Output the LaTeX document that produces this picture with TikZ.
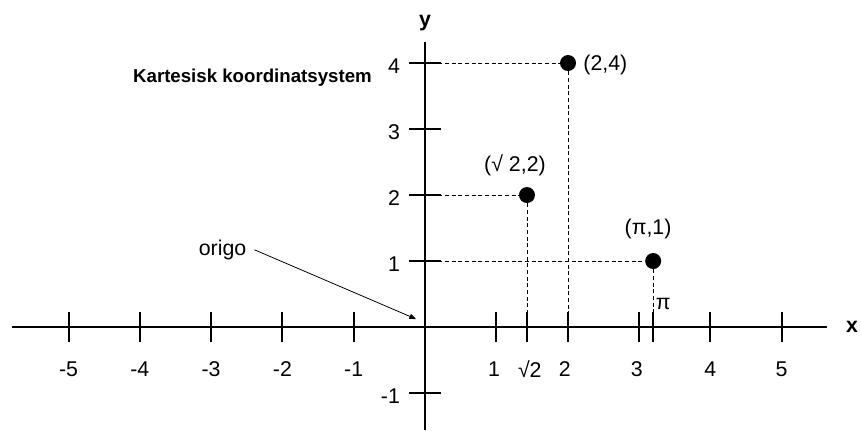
\documentclass[tikz,border=0pt]{standalone}
\usepackage{fontspec}
\setmainfont{Liberation Sans}
\usetikzlibrary{arrows.meta,positioning}

\begin{document}
\begin{tikzpicture}[
  x=53.475pt, y=49.5pt,
  akse/.style={line width=1.5pt},
  hjelp/.style={dash pattern=on 3pt off 2pt, line width=0.6pt},
  punkt/.style={circle, fill, inner sep=0pt, minimum size=12pt},
  tall/.style={font=\fontsize{16}{16}\selectfont, inner sep=1pt},
  pil/.style={-{Triangle[length=5pt,width=4pt]}, line width=0.6pt}]
  \useasboundingbox (-5.961,-1.561) rectangle (6.115,4.955);
  % akser
  \draw[akse] (-5.79,0) -- (5.64,0);
  \draw[akse] (0,-1.56) -- (0,4.32);
  \node[tall, font=\bfseries\fontsize{16}{16}\selectfont] (xnavn) at (5.99,0) {x};
  \node[tall, font=\bfseries\fontsize{16}{16}\selectfont] (ynavn) at (0,4.6) {y};
  \foreach \t in {-5,-4,-3,-2,-1,1,1.43,2,3,3.2,4,5}
    \draw[akse] (\t,-0.227) -- (\t,0.227);
  \foreach \t in {-1,1,2,3,4}
    \draw[akse] (-0.224,\t) -- (0.224,\t);
  % tall langs x
  \foreach \t in {-5,-4,-3,-2,-1,4,5}
    \node[tall] (x\t) at (\t,-0.64) {\t};
  \node[tall] (x1) at (0.97,-0.64) {1};
  \node[tall] (xrot) at (1.47,-0.64) {√2};
  \node[tall] (x2) at (1.96,-0.64) {2};
  \node[tall] (x3) at (2.97,-0.64) {3};
  \node[tall] (xpi) at (3.34,0.35) {π};
  % tall langs y
  \foreach \t in {-1,1,2,3,4}
    \node[tall, anchor=east] (y\t) at (-0.33,\t-0.05) {\t};
  \node[font=\bfseries\fontsize{14}{14}\selectfont] (tittel) at (-2.42,3.78) {Kartesisk koordinatsystem};
  % punkter
  \coordinate (O) at (-0.126,0.121);
  \node[punkt] (p24) at (2.006,4) {};
  \node[punkt] (prot) at (1.43,2) {};
  \node[punkt] (ppi) at (3.2,1) {};
  \node[tall, anchor=west] (l24) at (2.2,3.97) {(2,4)};
  \node[tall] (lrot) at (1.262,2.45) {(√ 2,2)};
  \node[tall] (lpi) at (3.128,1.48) {(π,1)};
  \draw[hjelp] (0,4) -- (p24) -- (2.006,0);
  \draw[hjelp] (0,2) -- (prot) -- (1.43,0);
  \draw[hjelp] (0,1) -- (ppi) -- (3.2,0);
  \node[tall, inner sep=6pt] (origo) at (-2.84,1.17) {origo};
  \draw[pil] (origo.east) -- (O);
\end{tikzpicture}
\end{document}
